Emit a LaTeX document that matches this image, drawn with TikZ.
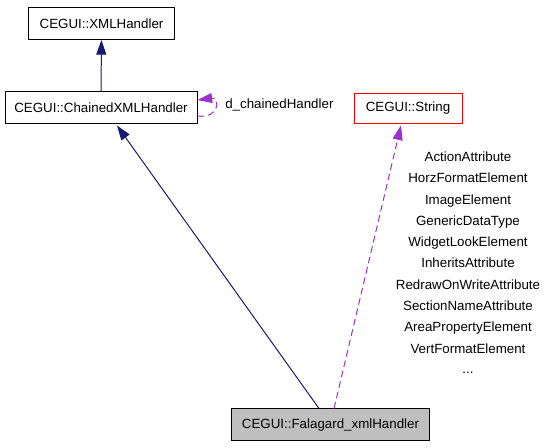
\documentclass[tikz,border=0pt]{standalone}
\usepackage{fontspec}
\setmainfont{Liberation Sans}
\usetikzlibrary{arrows.meta}
\definecolor{edgeblue}{HTML}{191970}
\definecolor{edgepurple}{HTML}{9A32CD}
\definecolor{boxgray}{HTML}{BFBFBF}
\tikzset{
  classbox/.style={draw=black,line width=0.75pt,minimum height=24pt,inner sep=0pt,font=\fontsize{10}{12}\selectfont},
  inherit/.style={draw=edgeblue,line width=0.75pt,-{Triangle[length=11pt,width=7.5pt]}},
  uses/.style={draw=edgepurple,line width=0.75pt,dash pattern=on 5pt off 3pt,-{Triangle[length=11pt,width=7.5pt]}},
  lbl/.style={font=\fontsize{10}{12}\selectfont,inner sep=0pt,anchor=base}
}
\begin{document}
\begin{tikzpicture}[x=0.75pt,y=-0.75pt]
  \useasboundingbox (0,0) rectangle (544,448);
  \draw
    (101.5,23.5) node[classbox,minimum width=110pt] (xml){CEGUI::XMLHandler}
    (101,108) node[classbox,minimum width=144pt] (chained){CEGUI::ChainedXMLHandler}
    (408,108.5) node[classbox,draw=red,minimum width=81pt,minimum height=23pt] (string){CEGUI::String}
    (330.5,425) node[classbox,fill=boxgray,minimum width=148pt] (fal){CEGUI::Falagard\_xmlHandler};
  \begin{scope}[-]
    \draw[inherit] (chained) to (xml);
    \draw[inherit] ([shift={(-11.5,0)}]fal.north) to ([shift={(16,1)}]chained.south);
    \draw[uses] ([shift={(3.5,0)}]fal.north) to ([shift={(-7,1)}]string.south);
    \draw[uses] ([shift={(0,8)}]chained.east) .. controls (220,119) and (220,97) .. ([shift={(0,-8)}]chained.east);
  \end{scope}
  \node[lbl,anchor=base west] (chlabel) at (225,109) {d\_chainedHandler};
  \foreach \t [count=\i] in {ActionAttribute,HorzFormatElement,ImageElement,GenericDataType,WidgetLookElement,InheritsAttribute,RedrawOnWriteAttribute,SectionNameAttribute,AreaPropertyElement,VertFormatElement}
    \node[lbl] (attr\i) at (468,{161.5+21.3*(\i-1)}) {\t};
  \node[lbl] (attrmore) at (468,374) {...};
\end{tikzpicture}
\end{document}
